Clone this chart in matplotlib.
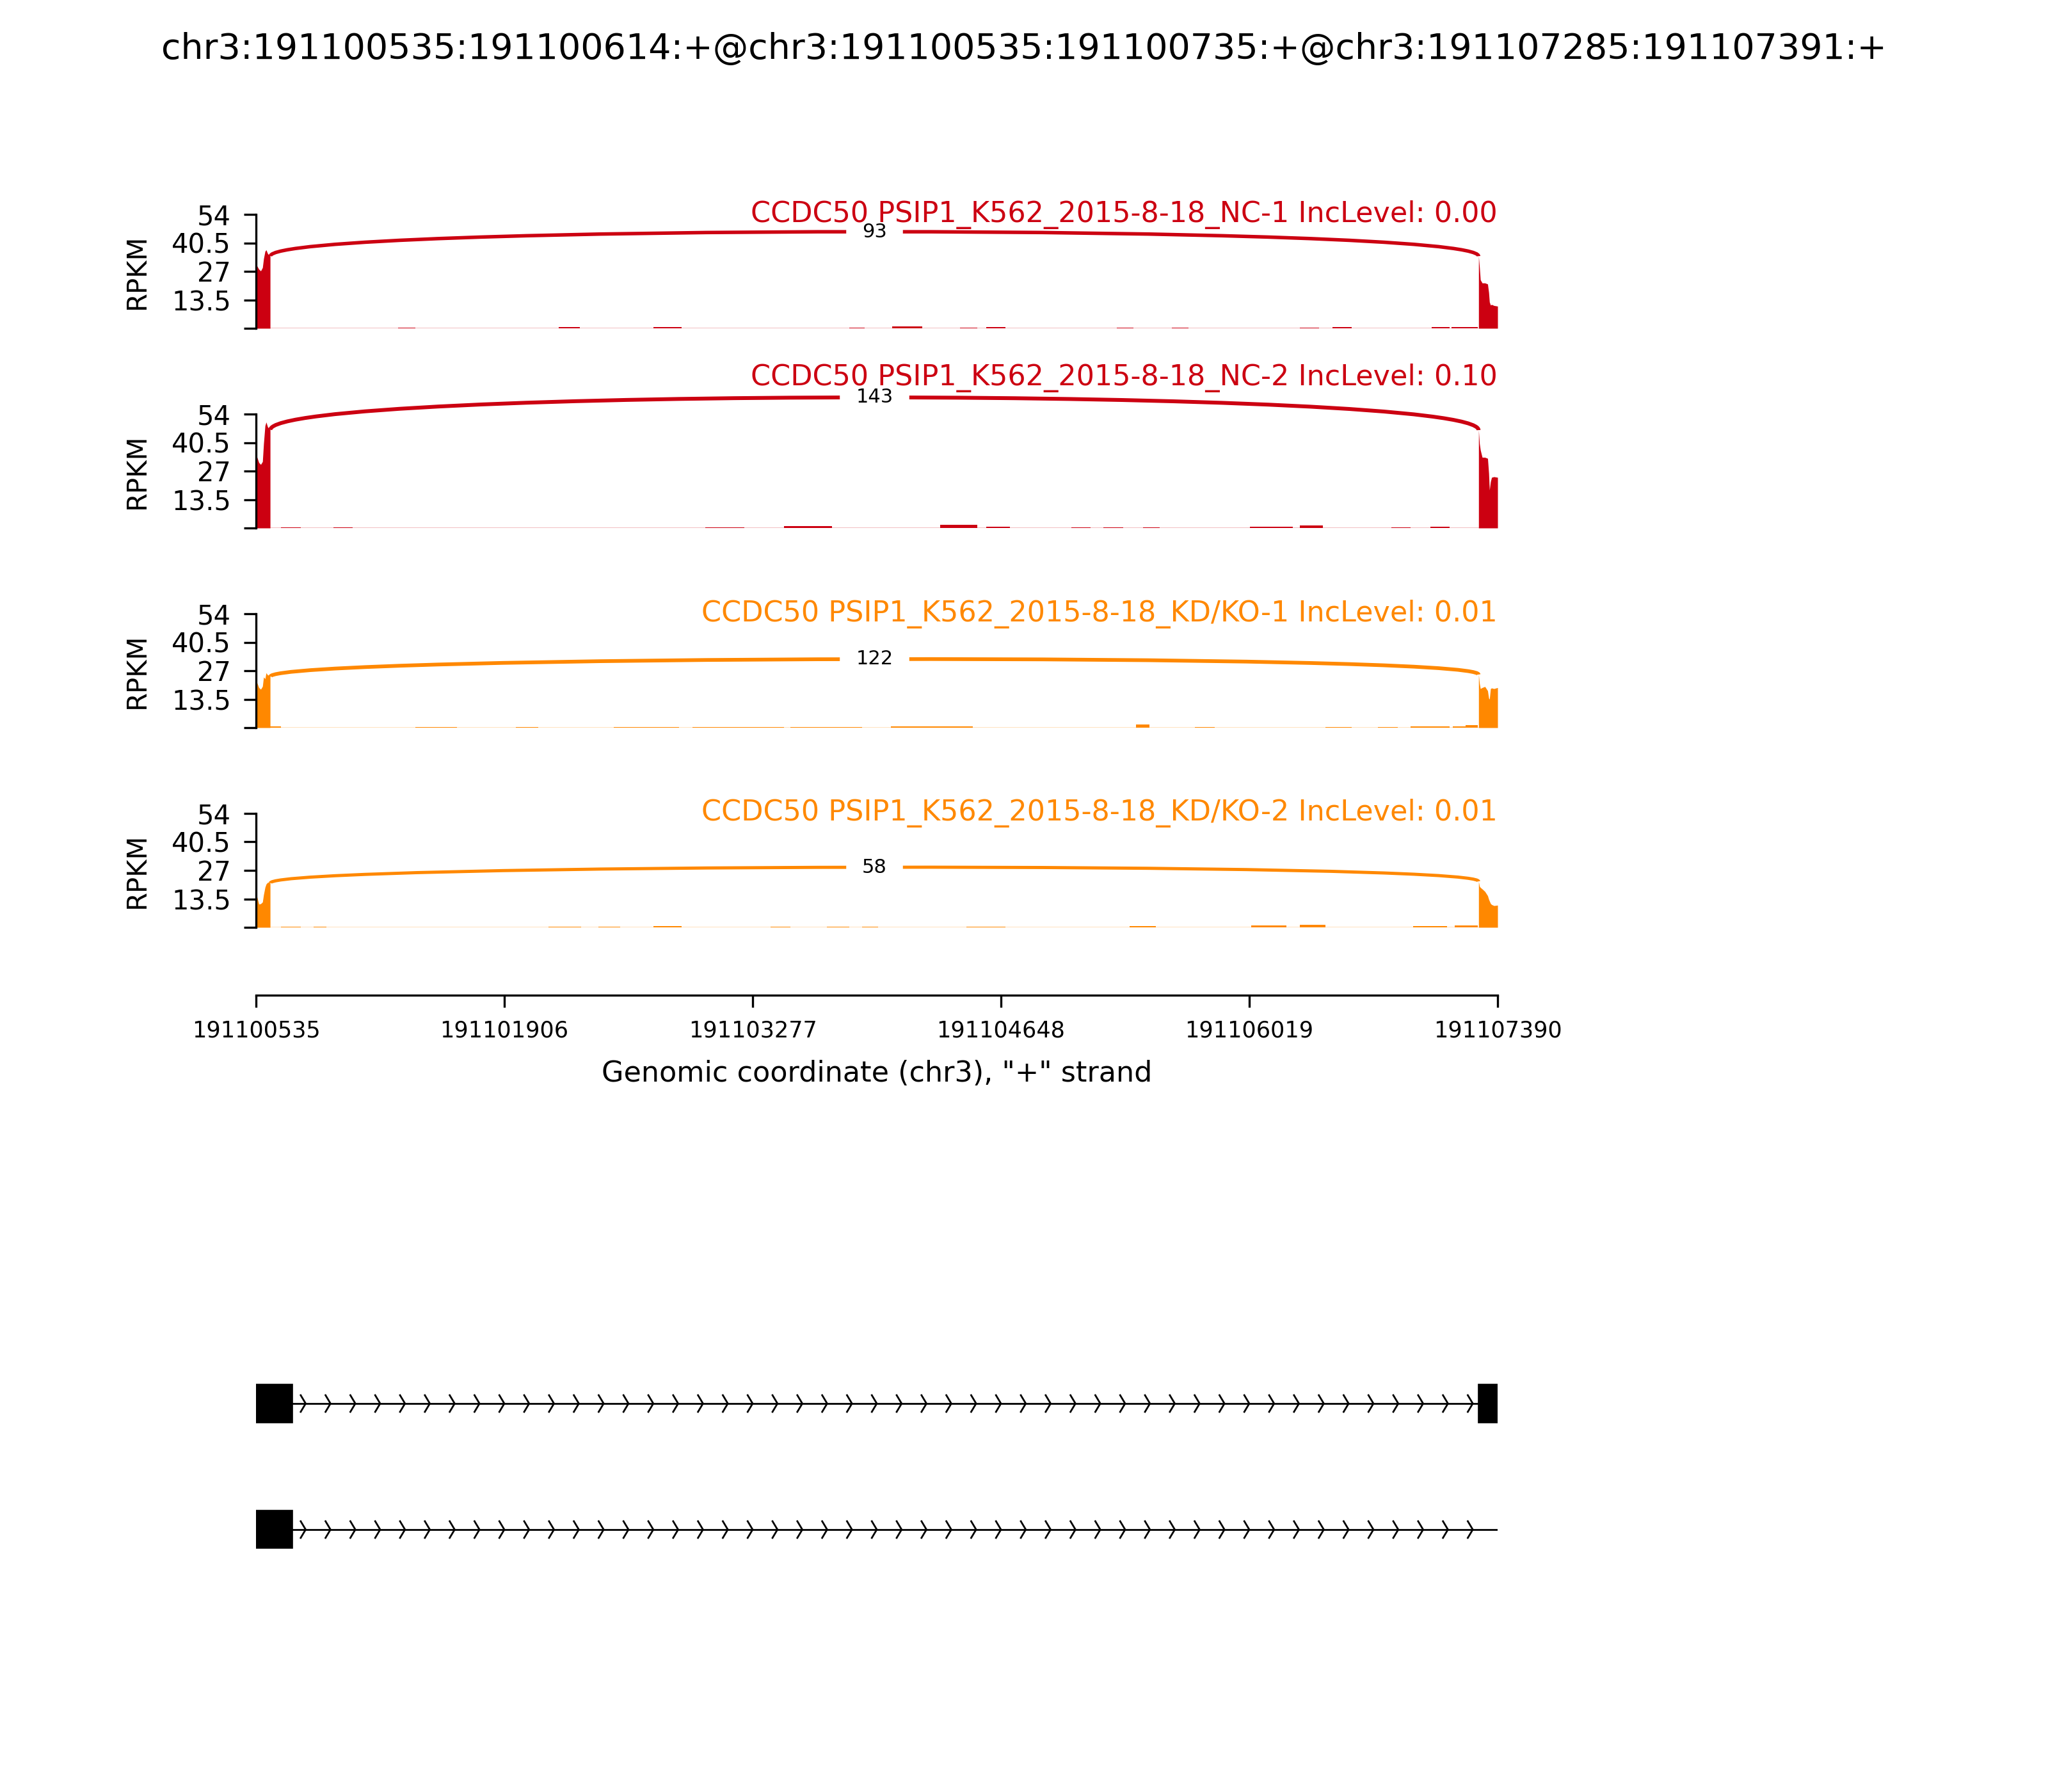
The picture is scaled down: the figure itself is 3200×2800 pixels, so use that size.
import numpy as np
import matplotlib
matplotlib.use('Agg')
import matplotlib.pyplot as plt
from matplotlib.path import Path
from matplotlib.patches import PathPatch, Rectangle

title = 'chr3:191100535:191100614:+@chr3:191100535:191100735:+@chr3:191107285:191107391:+'
start = 191100535
end = 191107390
xticks = [191100535, 191101906, 191103277, 191104648, 191106019, 191107390]

names = ['CCDC50 PSIP1_K562_2015-8-18_NC-1 IncLevel: 0.00',
         'CCDC50 PSIP1_K562_2015-8-18_NC-2 IncLevel: 0.10',
         'CCDC50 PSIP1_K562_2015-8-18_KD/KO-1 IncLevel: 0.01',
         'CCDC50 PSIP1_K562_2015-8-18_KD/KO-2 IncLevel: 0.01']
colors = ['#CC0011', '#CC0011', '#FF8800', '#FF8800']
ymax = 54
yticks = [0, 13.5, 27, 40.5, 54]

# coverage (RPKM) on the first exon, offsets from 191100535
left_pos = [0, 6, 16, 26, 36, 42, 50, 56, 64, 72, 78]
left_nc1 = [30, 29.5, 28, 27.2, 28.8, 33, 36.5, 37.2, 35.5, 34.6, 34.2]
left_nc2 = [34, 33.5, 31, 30.1, 31.5, 40, 48.5, 50.2, 48, 47, 46.5]
left_kd1 = [21.5, 21.2, 19, 18.2, 19.6, 24, 23.2, 26, 25, 24.7, 24.2]
left_kd2 = [14.5, 14.3, 11, 11.2, 12, 15.5, 19, 20.5, 21.3, 21.3, 21.0]

# coverage on the last exon
right_pos = [6750, 6755, 6760, 6770, 6785, 6800, 6806, 6810, 6816, 6822, 6835, 6855]
right_nc1 = [34.2, 29, 23, 21.5, 21.5, 21, 17, 12.5, 11, 11.3, 10.8, 10.5]
right_nc2 = [46.4, 40, 37, 33.5, 33.5, 33, 26, 18, 22, 24, 24.3, 24]
right_kd1 = [25.2, 21, 18.5, 19, 19.5, 17.5, 14, 13.5, 18.5, 18.8, 18.5, 19]
right_kd2 = [21.8, 19.5, 18.9, 18.2, 17, 15, 13.3, 12.5, 11.3, 10.8, 10.3, 10.5]

# small intronic read pile-ups: (start, end, RPKM)
bumps_nc1 = [(786, 880, 0.4), (1673, 1789, 0.5), (2193, 2351, 0.5), (3274, 3361, 0.4),
             (3512, 3678, 1.0), (3887, 3981, 0.4), (4031, 4139, 0.5), (4752, 4846, 0.4),
             (5055, 5149, 0.4), (5762, 5870, 0.4), (5942, 6050, 0.5), (6490, 6590, 0.5),
             (6600, 6745, 0.7)]
bumps_nc2 = [(137, 246, 0.4), (426, 534, 0.4), (2481, 2697, 0.4), (2914, 3180, 0.8),
             (3779, 3981, 1.6), (4031, 4161, 0.5), (4500, 4608, 0.4), (4680, 4788, 0.4),
             (4896, 4990, 0.4), (5488, 5726, 0.7), (5762, 5892, 1.3), (6267, 6375, 0.4),
             (6483, 6591, 0.5)]
bumps_kd1 = [(79, 137, 0.6), (880, 1111, 0.4), (1435, 1558, 0.35), (1976, 2337, 0.4),
             (2409, 2914, 0.4), (2950, 3346, 0.4), (3505, 3959, 0.55), (4860, 4933, 1.4),
             (5185, 5293, 0.4), (5906, 6050, 0.4), (6195, 6303, 0.4), (6375, 6591, 0.5),
             (6607, 6680, 0.7), (6680, 6745, 1.3)]
bumps_kd2 = [(137, 246, 0.4), (318, 390, 0.35), (1616, 1796, 0.4), (1890, 2012, 0.4),
             (2193, 2351, 0.5), (2841, 2950, 0.4), (3152, 3274, 0.4), (3346, 3433, 0.4),
             (3923, 4139, 0.4), (4824, 4969, 0.6), (5495, 5690, 1.0), (5762, 5906, 1.3),
             (6390, 6577, 0.6), (6618, 6745, 0.9)]

# junction 191100614 -> 191107285
jxn_left = 79
jxn_right = 6750
jxn_counts = [93, 143, 122, 58]
jxn_peak = [45.8, 61.9, 32.5, 28.5]

# transcript models (offsets)
tx_exons = [[(0, 200), (6750, 6856)], [(0, 200)]]
narrows = 50

lefts = [left_nc1, left_nc2, left_kd1, left_kd2]
rights = [right_nc1, right_nc2, right_kd1, right_kd2]
bumps = [bumps_nc1, bumps_nc2, bumps_kd1, bumps_kd2]

W, H = 3200, 2800
fig = plt.figure(figsize=(8, 7), dpi=400)
L = 400 / W
AW = 1940 / W
bottoms_px = [513, 825, 1137, 1449]
ph = 178 / H
span = end - start

for i in range(4):
    ax = fig.add_axes([L, 1 - bottoms_px[i] / H, AW, ph])
    c = colors[i]
    ax.fill_between([0, span], 0.2, color=c, alpha=0.25, lw=0)
    ax.fill_between(left_pos, lefts[i], color=c, lw=0)
    ax.fill_between(right_pos, rights[i], color=c, lw=0)
    for s, e, h in bumps[i]:
        ax.fill_between([s, e], h, color=c, lw=0)

    y0 = lefts[i][-1]
    y1 = rights[i][0]
    hh = (jxn_peak[i] - (y0 + y1) / 2) / 0.75
    verts = [(jxn_left, y0), (jxn_left, y0 + hh), (jxn_right, y1 + hh), (jxn_right, y1)]
    path = Path(verts, [Path.MOVETO, Path.CURVE4, Path.CURVE4, Path.CURVE4])
    ax.add_patch(PathPatch(path, ec=c, fc='none', lw=0.5 * np.log10(jxn_counts[i] + 1),
                           clip_on=False))
    ax.text((jxn_left + jxn_right) / 2, jxn_peak[i], str(jxn_counts[i]), fontsize=5.5,
            ha='center', va='center', backgroundcolor='w', clip_on=False)

    label_y = max(ymax, 1.15 * jxn_peak[i])
    ax.text(span, label_y, names[i], color=c, fontsize=8, ha='right', va='center')

    ax.set_xlim(0, span)
    ax.set_ylim(0, ymax)
    ax.set_yticks(yticks)
    ax.set_yticklabels([''] + ['%g' % t for t in yticks[1:]], fontsize=7.5)
    ax.set_xticks([])
    ax.set_ylabel('RPKM', fontsize=7.5, labelpad=6)
    for sp in ['top', 'right', 'bottom']:
        ax.spines[sp].set_visible(False)
    ax.spines['left'].set_linewidth(0.6)
    ax.tick_params(axis='y', width=0.6, length=3.5)

# genomic coordinate axis
xa = fig.add_axes([L, 1 - 1555 / H, AW, 0.0005])
xa.set_xlim(start, end)
xa.set_xticks(xticks)
xa.set_xticklabels([str(t) for t in xticks], fontsize=6.3)
xa.set_yticks([])
for sp in ['top', 'right', 'left']:
    xa.spines[sp].set_visible(False)
xa.spines['bottom'].set_linewidth(0.6)
xa.tick_params(axis='x', width=0.6, length=3.5)
xa.set_xlabel('Genomic coordinate (chr3), "+" strand', fontsize=8, labelpad=5)

# gene structures
ga = fig.add_axes([L, 1 - 2450 / H, AW, 320 / H])
ga.set_xlim(0, span)
ga.set_ylim(-0.305, 1.32)
ga.axis('off')
ex_h = 0.15
ar_h = 0.066
spread = 0.2 * span / narrows
for k, exons in enumerate(tx_exons):
    yloc = 1 - k
    ga.plot([0, span], [yloc, yloc], color='k', lw=0.5)
    for j in range(narrows):
        loc = j * span / narrows
        ga.plot([loc - spread, loc, loc - spread], [yloc - ar_h, yloc, yloc + ar_h],
                color='k', lw=0.5)
    for s, e in exons:
        ga.add_patch(Rectangle((s, yloc - ex_h), e - s, 2 * ex_h, fc='k', ec='k', lw=0.3,
                               zorder=3))

fig.text(0.5, 1 - 77.5 / H, title, fontsize=10, ha='center', va='center')

fig.savefig('out.png', dpi=400)
